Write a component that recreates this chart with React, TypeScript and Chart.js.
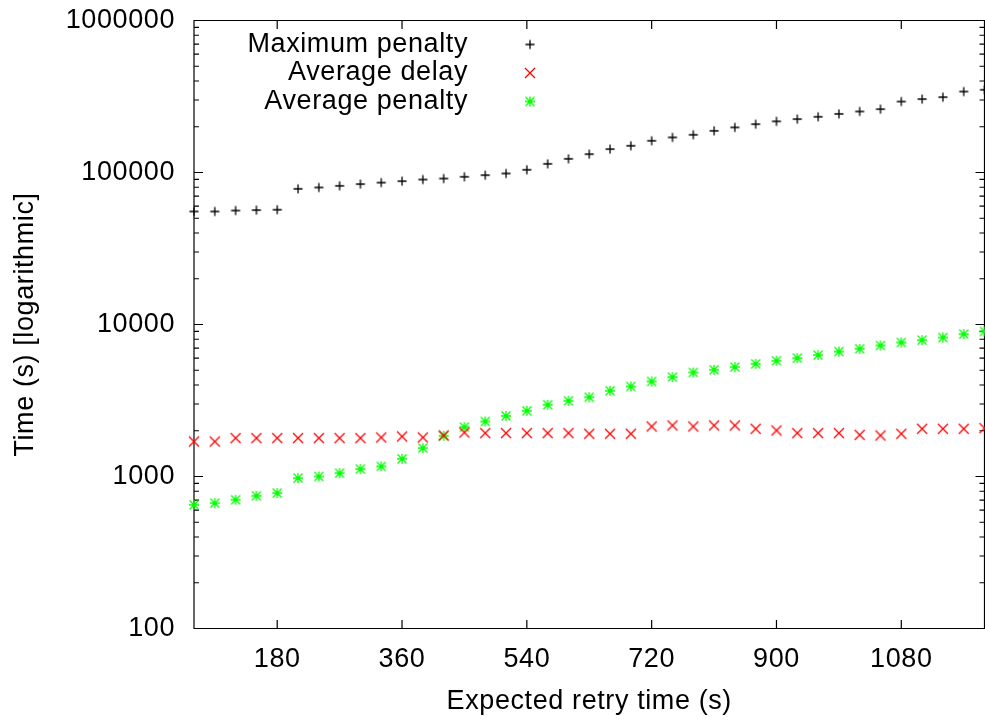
import React, { useEffect, useRef } from "react";
import { Chart, registerables } from "chart.js";

Chart.register(...registerables);

// ---------- data ----------
const retryTimes = [
  60, 90, 120, 150, 180, 210, 240, 270, 300, 330, 360, 390, 420, 450, 480, 510, 540, 570, 600,
  630, 660, 690, 720, 750, 780, 810, 840, 870, 900, 930, 960, 990, 1020, 1050, 1080, 1110, 1140, 1170, 1200,
];

const maximumPenalty = [
  55400, 55400, 56200, 56600, 56900, 78100, 79700, 81700, 83900, 85800, 87700, 89900, 91300, 93700, 96100, 98500,
  104200, 114000, 123000, 132000, 142600, 149900, 161700, 170100, 177000, 188000, 198000, 208000, 217000, 224600,
  232600, 243000, 252000, 261000, 293000, 304000, 313000, 341000, 350000,
];

const averageDelay = [
  1698, 1698, 1790, 1790, 1790, 1790, 1790, 1790, 1790, 1806, 1833, 1806, 1862, 1947, 1930, 1930, 1930, 1930, 1930,
  1910, 1910, 1910, 2133, 2166, 2133, 2166, 2166, 2060, 2009, 1930, 1930, 1930, 1880, 1862, 1910, 2060, 2060, 2060, 2080,
];

const averagePenalty = [
  651, 668, 703, 746, 778, 976, 1000, 1052, 1119, 1165, 1307, 1538, 1853, 2113, 2301, 2505, 2703, 2963, 3146,
  3325, 3664, 3911, 4219, 4510, 4834, 5036, 5245, 5512, 5770, 6010, 6290, 6640, 6920, 7280, 7620, 7890, 8210, 8650, 9000,
];

const xTickValues = [180, 360, 540, 720, 900, 1080];
const yTickValues = [100, 1000, 10000, 100000, 1000000];
const seriesLabels = ["Maximum penalty", "Average delay", "Average penalty"];
const seriesColors = ["#000000", "#ff0000", "#00ff00"];
const seriesMarkers = ["plus", "times", "star"];

const FONT_FAMILY = "'Liberation Sans', Arial, Helvetica, sans-serif";
const FONT_SIZE = 27;
const LETTER_SPACING = "0.6px";

function makeMarker(kind: string, color: string): HTMLCanvasElement {
  const c = document.createElement("canvas");
  c.width = 16;
  c.height = 16;
  const ctx = c.getContext("2d")!;
  const m = 8;
  ctx.strokeStyle = color;
  ctx.lineWidth = 1.3;
  ctx.beginPath();
  if (kind === "plus" || kind === "star") {
    const h = kind === "plus" ? 4.5 : 5;
    ctx.moveTo(m - h, m);
    ctx.lineTo(m + h, m);
    ctx.moveTo(m, m - h);
    ctx.lineTo(m, m + h);
  }
  if (kind === "times" || kind === "star") {
    const h = kind === "times" ? 5 : 4.5;
    ctx.moveTo(m - h, m - h);
    ctx.lineTo(m + h, m + h);
    ctx.moveTo(m - h, m + h);
    ctx.lineTo(m + h, m - h);
  }
  ctx.stroke();
  return c;
}

const framePlugin = {
  id: "gnuFrame",
  beforeDraw(chart: any) {
    try {
      (chart.ctx as any).letterSpacing = LETTER_SPACING;
    } catch (e) {
      /* ignore */
    }
  },
  beforeDatasetsDraw(chart: any) {
    const { ctx, chartArea } = chart;
    const { left, right, top, bottom } = chartArea;
    const xs = chart.scales.x;
    const ys = chart.scales.y;
    ctx.save();
    ctx.strokeStyle = "#000";
    ctx.lineWidth = 1.2;
    ctx.beginPath();
    ctx.rect(left, top, right - left, bottom - top);
    xTickValues.forEach((v) => {
      const x = xs.getPixelForValue(v);
      ctx.moveTo(x, bottom);
      ctx.lineTo(x, bottom - 8.5);
      ctx.moveTo(x, top);
      ctx.lineTo(x, top + 8.5);
    });
    yTickValues.forEach((v) => {
      const y = ys.getPixelForValue(v);
      ctx.moveTo(left, y);
      ctx.lineTo(left + 9, y);
      ctx.moveTo(right, y);
      ctx.lineTo(right - 9, y);
    });
    for (let d = 0; d < yTickValues.length - 1; d++) {
      for (let k = 2; k <= 9; k++) {
        const y = ys.getPixelForValue(yTickValues[d] * k);
        ctx.moveTo(left, y);
        ctx.lineTo(left + 5, y);
        ctx.moveTo(right, y);
        ctx.lineTo(right - 5, y);
      }
    }
    ctx.stroke();
    ctx.restore();
  },
  afterDatasetsDraw(chart: any) {
    const { ctx } = chart;
    ctx.save();
    ctx.font = `${FONT_SIZE}px ${FONT_FAMILY}`;
    ctx.fillStyle = "#000";
    ctx.textAlign = "right";
    ctx.textBaseline = "middle";
    chart.data.datasets.forEach((ds: any, i: number) => {
      const y = 44.5 + i * 28.5;
      ctx.fillText(ds.label, 468, y);
      const img = ds.pointStyle as HTMLCanvasElement;
      ctx.drawImage(img, 530 - img.width / 2, y - img.height / 2);
    });
    ctx.restore();
  },
};

export default function App() {
  const canvasRef = useRef<HTMLCanvasElement>(null);

  useEffect(() => {
    document.body.style.margin = "0";
    document.body.style.background = "#ffffff";
    const canvas = canvasRef.current;
    if (!canvas) return;

    Chart.defaults.font.family = FONT_FAMILY;
    Chart.defaults.font.size = FONT_SIZE;
    Chart.defaults.color = "#000";

    const seriesValues = [maximumPenalty, averageDelay, averagePenalty];
    const datasets = seriesValues.map((vals, i) => ({
      label: seriesLabels[i],
      data: retryTimes.map((x, j) => ({ x, y: vals[j] })),
      pointStyle: makeMarker(seriesMarkers[i], seriesColors[i]) as any,
      pointRadius: 5,
      borderColor: seriesColors[i],
      backgroundColor: seriesColors[i],
      showLine: false,
      clip: false as any,
    }));

    const chart = new Chart(canvas, {
      type: "scatter",
      data: { datasets },
      plugins: [framePlugin],
      options: {
        responsive: false,
        animation: false,
        devicePixelRatio: 1,
        layout: { autoPadding: false, padding: { top: 20.5, right: 0.5, bottom: 0, left: 0 } },
        plugins: {
          legend: { display: false },
          tooltip: { enabled: false },
        },
        scales: {
          x: {
            type: "linear",
            position: "bottom",
            min: 60,
            max: 1200,
            afterBuildTicks: (s: any) => {
              s.ticks = xTickValues.map((v) => ({ value: v }));
            },
            afterFit: (s: any) => {
              s.height = 96.5;
              s.paddingLeft = 0;
              s.paddingRight = 0;
              s.paddingTop = 0;
              s.paddingBottom = 0;
            },
            grid: { display: false, drawTicks: false },
            border: { display: false },
            ticks: {
              padding: 15,
              color: "#000",
              font: { size: FONT_SIZE, family: FONT_FAMILY },
              maxRotation: 0,
              autoSkip: false,
              callback: (v: any) => String(v),
            },
            title: {
              display: true,
              text: "Expected retry time (s)",
              color: "#000",
              font: { size: FONT_SIZE, family: FONT_FAMILY },
              padding: { top: 0, bottom: 7 },
            },
          },
          y: {
            type: "logarithmic",
            position: "left",
            min: 100,
            max: 1000000,
            afterBuildTicks: (s: any) => {
              s.ticks = yTickValues.map((v) => ({ value: v }));
            },
            afterFit: (s: any) => {
              s.width = 194;
              s.paddingLeft = 0;
              s.paddingRight = 0;
              s.paddingTop = 0;
              s.paddingBottom = 0;
            },
            grid: { display: false, drawTicks: false },
            border: { display: false },
            ticks: {
              padding: 19,
              color: "#000",
              font: { size: FONT_SIZE, family: FONT_FAMILY },
              autoSkip: false,
              callback: (v: any) => String(v),
            },
            title: {
              display: true,
              text: "Time (s) [logarithmic]",
              color: "#000",
              font: { size: FONT_SIZE, family: FONT_FAMILY },
              padding: { top: 9, bottom: 0 },
            },
          },
        },
      },
    });

    return () => chart.destroy();
  }, []);

  return (
    <div style={{ width: 985, height: 725 }}>
      <canvas ref={canvasRef} width={985} height={725} style={{ display: "block" }} />
    </div>
  );
}
